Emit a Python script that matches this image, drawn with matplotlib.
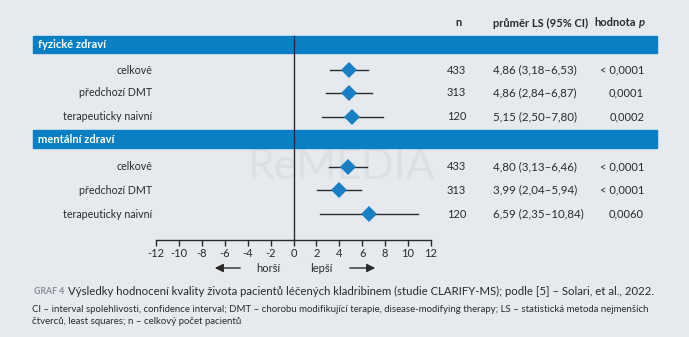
import matplotlib
matplotlib.use('Agg')
import matplotlib.pyplot as plt
from matplotlib.patches import Rectangle, FancyArrowPatch

# ---- data ----
groups = ['fyzické zdraví', 'mentální zdraví']
subgroups = ['celkově', 'předchozí DMT', 'terapeuticky naivní']
n_values = [[433, 313, 120], [433, 313, 120]]
means = [[4.86, 4.86, 5.15], [4.80, 3.99, 6.59]]
ci_low = [[3.18, 2.84, 2.50], [3.13, 2.04, 2.35]]
ci_high = [[6.53, 6.87, 7.80], [6.46, 5.94, 10.84]]
p_labels = [['< 0,0001', '0,0001', '0,0002'], ['< 0,0001', '< 0,0001', '0,0060']]
xticks = list(range(-12, 13, 2))

# ---- style ----
W, H = 689, 337
BG = '#e6eaef'
BLUE = '#0a7fc4'
DIAM = '#1a80c6'
TXT = '#2a2a2a'
FONT = 'Lato'
plt.rcParams['font.family'] = [FONT, 'DejaVu Sans']
plt.rcParams['axes.unicode_minus'] = False

fig = plt.figure(figsize=(W / 100, H / 100), dpi=100, facecolor=BG)

# overlay axes in pixel coordinates
ov = fig.add_axes([0, 0, 1, 1], zorder=0)
ov.set_xlim(0, W)
ov.set_ylim(H, 0)
ov.axis('off')
ov.set_facecolor(BG)

# forest axes: x in data units, y in pixel coords
x0px, x1px = 156.2, 430.8
ax = fig.add_axes([x0px / W, 0, (x1px - x0px) / W, 1], zorder=1)
ax.set_xlim(-12, 12)
ax.set_ylim(H, 0)
ax.patch.set_alpha(0)
for s in ['top', 'right', 'left']:
    ax.spines[s].set_visible(False)
ax.spines['bottom'].set_position(('data', 239.5))
ax.spines['bottom'].set_linewidth(1.0)
ax.spines['bottom'].set_color(TXT)
ax.set_yticks([])
ax.set_xticks(xticks)
ax.set_xticklabels([str(t) for t in xticks])
ax.tick_params(axis='x', direction='out', length=4, width=1.0, color=TXT,
               labelsize=8, labelcolor=TXT, pad=2)

# watermark
ov.text(341, 167, 'ReMEDIA', fontsize=31, color='#dce0e5', ha='center',
        va='center', family='Lato', zorder=0)

# header bars
bar_y = [(36, 53), (130, 148)]
row_y = [[70, 93, 117], [167, 190, 214]]
for g, (yt, yb) in enumerate(bar_y):
    ov.add_patch(Rectangle((33, yt), 657 - 33, yb - yt, color=BLUE, zorder=1))
    ov.text(38, (yt + yb) / 2 + 0.5, groups[g], color='white', fontsize=8,
            fontweight='bold', va='center', ha='left', zorder=2)

# zero line
ax.plot([0, 0], [36, 239.5], color=TXT, lw=1.0, zorder=3)

# column headers
hy = 23
ov.text(458, hy, 'n', fontsize=8, fontweight='bold', ha='center', va='center', color=TXT)
ov.text(493, hy, 'průměr LS (95% CI)', fontsize=8, fontweight='bold', ha='left', va='center', color=TXT)
ov.text(636, hy, 'hodnota', fontsize=8, fontweight='bold', ha='right', va='center', color=TXT)
ov.text(645, hy, 'p', fontsize=8, fontweight='bold', style='italic', ha='right', va='center', color=TXT)

def fmt(v):
    return f'{v:.2f}'.replace('.', ',')

for g in range(len(groups)):
    for i, lab in enumerate(subgroups):
        y = row_y[g][i]
        ov.text(152, y, lab, fontsize=7.7, ha='right', va='center', color=TXT)
        ax.plot([ci_low[g][i], ci_high[g][i]], [y, y], color=TXT, lw=1.0, zorder=4)
        ax.plot([means[g][i]], [y], marker='D', markersize=8.5, color=DIAM,
                markeredgewidth=0, zorder=5)
        ov.text(466, y, str(n_values[g][i]), fontsize=8, ha='right', va='center', color=TXT)
        ov.text(493, y, f'{fmt(means[g][i])} ({fmt(ci_low[g][i])}–{fmt(ci_high[g][i])})',
                fontsize=8.3, ha='left', va='center', color=TXT)
        ov.text(644, y, p_labels[g][i], fontsize=8, ha='right', va='center', color=TXT)

# direction labels
ov.text(268, 268, 'horší', fontsize=8, ha='center', va='center', color=TXT)
ov.text(321, 268, 'lepší', fontsize=8, ha='center', va='center', color=TXT)
ov.add_patch(FancyArrowPatch((243, 268), (212, 268), arrowstyle='-|>,head_length=5,head_width=2.5',
                             color=TXT, lw=1.0, mutation_scale=1, zorder=3))
ov.add_patch(FancyArrowPatch((347, 268), (378, 268), arrowstyle='-|>,head_length=5,head_width=2.5',
                             color=TXT, lw=1.0, mutation_scale=1, zorder=3))

# caption
ov.text(34, 292, 'GRAF 4', fontsize=6.3, color='#8a8f96', fontweight='bold', ha='left', va='center')
ov.text(68, 291.5, 'Výsledky hodnocení kvality života pacientů léčených kladribinem '
        '(studie CLARIFY-MS); podle [5] – Solari, et al., 2022.',
        fontsize=8.2, color=TXT, ha='left', va='center')
ov.text(32, 309, 'CI – interval spolehlivosti, confidence interval; DMT – chorobu modifikující '
        'terapie, disease-modifying therapy; LS – statistická metoda nejmenších',
        fontsize=6.9, color=TXT, ha='left', va='center')
ov.text(32, 322, 'čtverců, least squares; n – celkový počet pacientů',
        fontsize=6.9, color=TXT, ha='left', va='center')

fig.savefig('out.png', dpi=100, facecolor=BG)
